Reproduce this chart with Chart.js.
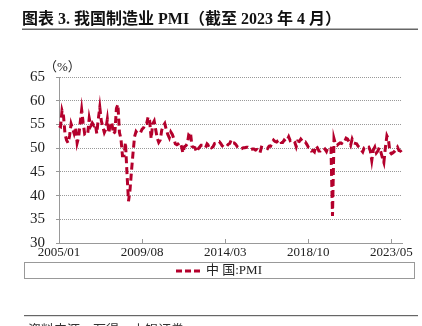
<!DOCTYPE html>
<head>
    <title>PMI</title>
    <meta charset="utf-8">
    <script src="https://cdn.jsdelivr.net/npm/chart.js"></script>
    <style>
        body { margin: 0; background: #fff; }
        #wrap { position: relative; width: 422px; height: 326px; }
    </style>
</head>
<body>
    <div id="wrap">
        <canvas id="myChart" width="422" height="326"></canvas>
    </div>
    <script>
        const titleText = '图表 3. 我国制造业 PMI（截至 2023 年 4 月）';
        const sourceText = '资料来源：万得，中银证券';
        const seriesName = '中 国:PMI';
        const startYear = 2005;
        const tickLabels = ['2005/01', '2009/08', '2014/03', '2018/10', '2023/05'];

        // monthly manufacturing PMI, one row per year
        const pmi = [
            54.7, 54.5, 57.9, 56.7, 52.9, 51.7, 51.1, 52.6, 55.1, 54.1, 53.1, 54.4,
            51.1, 52.3, 55.3, 58.1, 55.3, 53.0, 53.2, 53.0, 56.3, 54.7, 55.3, 54.8,
            55.1, 53.1, 56.1, 58.6, 55.8, 54.5, 53.3, 54.0, 56.1, 53.2, 55.4, 55.3,
            53.0, 53.4, 58.4, 59.2, 53.3, 52.0, 48.4, 48.4, 51.2, 44.6, 38.8, 41.2,
            45.3, 49.0, 52.4, 53.5, 53.1, 53.2, 53.3, 54.0, 54.3, 55.2, 55.2, 56.6,
            55.8, 52.0, 55.1, 55.7, 53.9, 52.1, 51.2, 51.7, 53.8, 54.7, 55.2, 53.9,
            52.9, 52.2, 53.4, 52.9, 52.0, 50.9, 50.7, 50.9, 51.2, 50.4, 49.0, 50.3,
            50.5, 51.0, 53.1, 53.3, 50.4, 50.2, 50.1, 49.2, 49.8, 50.2, 50.6, 50.6,
            50.4, 50.1, 50.9, 50.6, 50.8, 50.1, 50.3, 51.0, 51.1, 51.4, 51.4, 51.0,
            50.5, 50.2, 50.3, 50.4, 50.8, 51.0, 51.7, 51.1, 51.1, 50.8, 50.3, 50.1,
            49.8, 49.9, 50.1, 50.1, 50.2, 50.2, 50.0, 49.7, 49.8, 49.8, 49.6, 49.7,
            49.4, 49.0, 50.2, 50.1, 50.1, 50.0, 49.9, 50.4, 50.4, 51.2, 51.7, 51.4,
            51.3, 51.6, 51.8, 51.2, 51.2, 51.7, 51.4, 51.7, 52.4, 51.6, 51.8, 51.6,
            51.3, 50.3, 51.5, 51.4, 51.9, 51.5, 51.2, 51.3, 50.8, 50.2, 50.0, 49.4,
            49.5, 49.2, 50.5, 50.1, 49.4, 49.4, 49.7, 49.5, 49.8, 49.3, 50.2, 50.2,
            50.0, 35.7, 52.0, 50.8, 50.6, 50.9, 51.1, 51.0, 51.5, 51.4, 52.1, 51.9,
            51.3, 50.6, 51.9, 51.1, 51.0, 50.9, 50.4, 50.1, 49.6, 49.2, 50.1, 50.3,
            50.1, 50.2, 49.5, 47.4, 49.6, 50.2, 49.0, 49.4, 50.1, 49.2, 48.0, 47.0,
            50.1, 52.6, 51.9, 49.2, 48.8, 49.0, 49.3, 49.7, 50.2, 49.5, 49.4, 49.0
        ];

        const months = [];
        for (let i = 0; i < pmi.length; i++) {
            const y = startYear + Math.floor(i / 12);
            const m = (i % 12) + 1;
            months.push(y + '/' + (m < 10 ? '0' + m : m));
        }

        const lineColor = '#b4002c';
        const serif = "'Liberation Serif', 'Noto Sans CJK SC'";

        // title, rules, legend box and source line
        const decorations = {
            id: 'decorations',
            afterDraw(chart) {
                const c = chart.ctx;
                const area = chart.chartArea;
                const xs = chart.scales.x;
                c.save();

                c.fillStyle = '#111';
                c.font = "bold 16px 'Liberation Serif', 'Noto Sans CJK SC'";
                c.textBaseline = 'alphabetic';
                c.textAlign = 'left';
                c.fillText(titleText, 22, 24);

                c.fillStyle = '#666';
                c.fillRect(22, 28.5, 396, 1.5);
                c.fillRect(24, 315, 394, 1.2);

                // unit label
                c.fillStyle = '#222';
                c.font = '13px ' + serif;
                c.fillText('（%）', 44, 71);

                // short inner ticks on the date axis
                c.strokeStyle = '#999';
                c.lineWidth = 1;
                months.forEach((lab, i) => {
                    if (tickLabels.includes(lab)) {
                        const px = Math.round(xs.getPixelForValue(i)) + 0.5;
                        c.beginPath();
                        c.moveTo(px, area.bottom);
                        c.lineTo(px, area.bottom - 4);
                        c.stroke();
                    }
                });

                // legend
                c.strokeStyle = '#999';
                c.strokeRect(24.5, 262.5, 390, 16);
                c.strokeStyle = lineColor;
                c.lineWidth = 3;
                c.setLineDash([6, 3]);
                c.beginPath();
                c.moveTo(176, 271);
                c.lineTo(203, 271);
                c.stroke();
                c.setLineDash([]);
                c.fillStyle = '#222';
                c.font = '13px ' + serif;
                c.textBaseline = 'middle';
                c.fillText(seriesName, 206, 271);

                // source note
                c.fillStyle = '#333';
                c.textBaseline = 'alphabetic';
                c.font = "13px 'Noto Sans CJK SC'";
                c.fillText(sourceText, 28, 334);
                c.restore();
            }
        };

        const ctx = document.getElementById('myChart');
        Chart.defaults.font.family = serif;
        Chart.defaults.color = '#222';
        new Chart(ctx, {
            type: 'line',
            data: {
                labels: months,
                datasets: [{
                    label: seriesName,
                    data: pmi,
                    borderColor: lineColor,
                    borderWidth: 3,
                    borderDash: [7, 4],
                    pointRadius: 0,
                    tension: 0,
                    fill: false
                }]
            },
            options: {
                responsive: false,
                animation: false,
                layout: { padding: { left: 0, top: 77, right: 20, bottom: 0 } },
                plugins: { legend: { display: false }, tooltip: { enabled: false } },
                scales: {
                    x: {
                        type: 'category',
                        offset: false,
                        afterFit(s) { s.height = 83; },
                        grid: { display: false, drawTicks: false },
                        border: { display: true, color: '#999', width: 1 },
                        ticks: {
                            autoSkip: false,
                            maxRotation: 0,
                            padding: 2,
                            font: { size: 13 },
                            color: '#222',
                            callback(v, i) {
                                const lab = months[i];
                                return tickLabels.includes(lab) ? lab : null;
                            }
                        }
                    },
                    y: {
                        min: 30,
                        max: 65,
                        afterFit(s) { s.width = 59; },
                        grid: { color: '#999', drawTicks: true, tickLength: 3, lineWidth: 1 },
                        border: { display: true, color: '#999', dash: [1, 1], width: 1 },
                        ticks: { stepSize: 5, padding: 11, font: { size: 15 }, color: '#222' }
                    }
                }
            },
            plugins: [decorations]
        });
    </script>
</body>
</html>
